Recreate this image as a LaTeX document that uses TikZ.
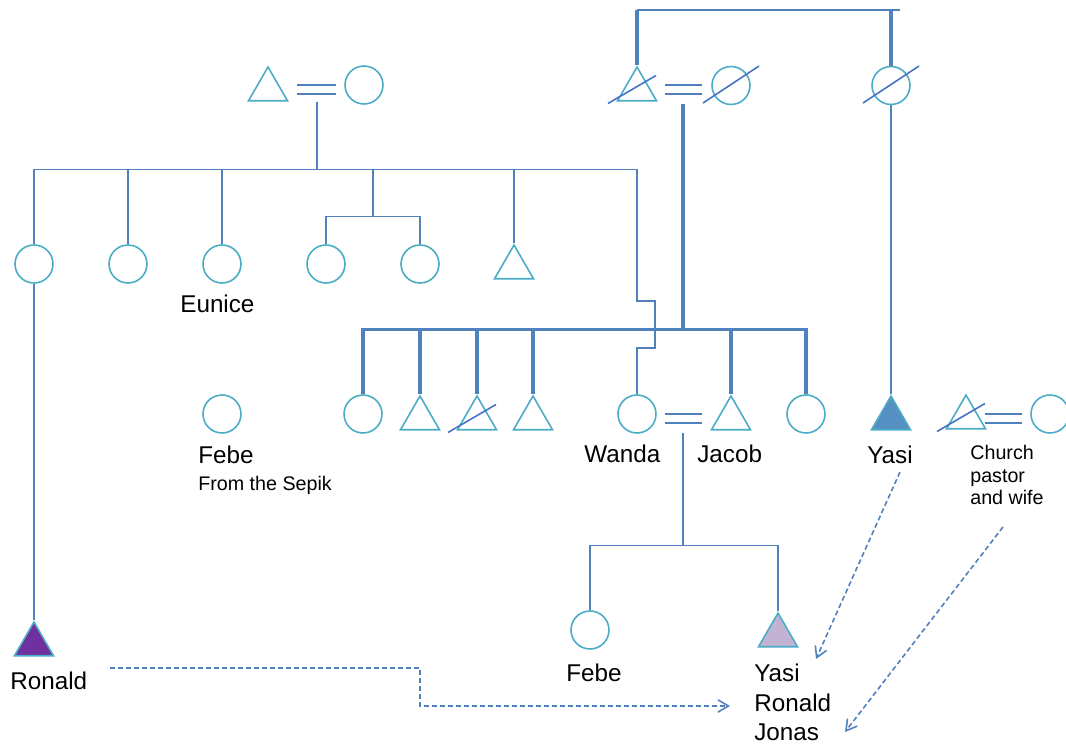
\documentclass[tikz,border=0pt]{standalone}
\usepackage{fontspec}
\setmainfont{Liberation Sans}
\usetikzlibrary{shapes.geometric,arrows.meta,positioning}

\definecolor{kinblue}{HTML}{4F81BD}
\definecolor{symteal}{HTML}{4BACC6}
\definecolor{crossblue}{HTML}{4472C4}
\definecolor{ronfill}{HTML}{7030A0}
\definecolor{lilac}{HTML}{C3B3D3}
\definecolor{yasifill}{HTML}{5690C3}

\tikzset{
  female/.style={circle,draw=symteal,line width=0.9pt,fill=white,minimum size=0.76cm,inner sep=0pt},
  male/.style={regular polygon,regular polygon sides=3,draw=symteal,line width=0.9pt,fill=white,minimum size=0.9cm,inner sep=0pt},
  kin/.style={draw=kinblue,line width=0.9pt},
  kinbold/.style={draw=kinblue,line width=2.2pt},
  marry/.style={draw=kinblue,line width=1.1pt},
  gone/.style={draw=crossblue,line width=0.9pt},
  link/.style={draw=kinblue,line width=0.9pt,dash pattern=on 0.1cm off 0.06cm,-{Straight Barb[length=6pt,width=7pt]}},
  bigname/.style={font=\fontsize{13.8}{17.6}\selectfont,inner sep=0pt,anchor=base west},
  smallname/.style={font=\fontsize{11.2}{13}\selectfont,inner sep=0pt,anchor=base west,align=left}
}

\begin{document}
\begin{tikzpicture}[x=0.02cm,y=-0.02cm]
\useasboundingbox (0,0) rectangle (1066,746);

% grandparents
\node[male]   (g1m) at (268,89.5) {};
\node[female] (g1f) at (364,85) {};
\node[male]   (g2m) at (637,89.5) {};
\node[female] (g2f) at (731,85.5) {};
\node[female] (g3f) at (891,85.5) {};

% left family
\node[female] (l1) at (34,264) {};
\node[female] (l2) at (128,264) {};
\node[female] (l3) at (222,264) {};
\node[female] (l4) at (326,264) {};
\node[female] (l5) at (420,264) {};
\node[male]   (l6) at (514,267.5) {};

% right family
\node[female] (r1) at (363,414) {};
\node[male]   (r2) at (420,418.5) {};
\node[male]   (r3) at (477,418.5) {};
\node[male]   (r4) at (533,418.5) {};
\node[female] (wanda) at (637,414) {};
\node[male]   (jacob) at (731,418.5) {};
\node[female] (r6) at (806,414) {};
\node[female] (febe) at (222,414) {};
\node[male,fill=yasifill] (yasi) at (891,418.5) {};
\node[male]   (pastor) at (966,417.5) {};
\node[female] (wife) at (1050,414) {};

% grandchildren
\node[female] (febe2) at (590,630) {};
\node[male,fill=lilac] (boy) at (778,635.5) {};
\node[male,fill=ronfill] (ronald) at (34,644.5) {};

% names (multi-line ones sit on their last line)
\node[bigname]   (euniceL) at (180,313) {Eunice};
\node[bigname]   (febeL) at (198,464) {Febe};
\node[smallname] (sepikL) at (198,491) {From the Sepik};
\node[bigname]   (wandaL) at (584,463) {Wanda};
\node[bigname]   (jacobL) at (697,463) {Jacob};
\node[bigname]   (yasiL) at (867,464) {Yasi};
\node[smallname] (pastorL) at (970,505) {Church\\pastor\\and wife};
\node[bigname]   (ronaldL) at (10,690) {Ronald};
\node[bigname]   (febe2L) at (566,682) {Febe};
\node[bigname,align=left,font=\fontsize{13.8}{16.8}\selectfont] (boyL) at (754,741) {Yasi\\Ronald\\Jonas};

% left family lines
\draw[marry] (g1m.center) ++(29,-4.5) -- ++(39,0) ++(-39,9) -- ++(39,0);
\coordinate (m1) at (317,102);
\coordinate (bar1) at (317,169.5);
\coordinate (sub) at (373,216.5);
\draw[kin] (m1) -- (bar1);
\draw[kin] (l1.north) -- (l1.north |- bar1) -- (wanda |- bar1);
\foreach \c in {l2,l3}
  \draw[kin] (\c.north |- bar1) -- (\c.north);
\draw[kin] (sub |- bar1) -- (sub);
\draw[kin] (l4.north) -- (l4.north |- sub) -- (l5.north |- sub) -- (l5.north);
\draw[kin] (l6.corner 1 |- bar1) -- (l6.corner 1);
\draw[kin] (wanda |- bar1) -- (637,301) -- (655,301) -- (655,348) -- (637,348) -- (wanda.north);
\draw[kin] (l1.south) -- (ronald.corner 1);

% right family lines
\coordinate (top) at (637,10);
\coordinate (topend) at (900,10);
\draw[kinbold] (g2m.corner 1) -- (top);
\draw[kinbold] (top -| g3f) -- (g3f.north);
\draw[kin,line width=1.5pt] (top) -- (topend);
\draw[marry] (g2m.center) ++(28,-4.5) -- ++(37,0) ++(-37,9) -- ++(37,0);
\coordinate (m2) at (683,104);
\coordinate (bar2) at (683,329.5);
\draw[kinbold] (m2) -- (bar2);
\draw[kinbold] (r1.north) -- (r1.north |- bar2) -- (r6.north |- bar2) -- (r6.north);
\foreach \c in {r2,r3,r4,jacob}
  \draw[kinbold] (\c.corner 1 |- bar2) -- (\c.corner 1);
\draw[kin] (g3f.south) -- (yasi.corner 1);

% Wanda and Jacob
\draw[marry] (wanda.center) ++(28,0) -- ++(37,0) ++(-37,9) -- ++(37,0);
\coordinate (m3) at (683,433);
\coordinate (bar3) at (683,545.5);
\draw[kin] (m3) -- (bar3);
\draw[kin] (febe2.north) -- (febe2.north |- bar3) -- (boy.corner 1 |- bar3) -- (boy.corner 1);

% pastor couple
\draw[marry] (pastor.center) ++(19,-3.5) -- ++(37,0) ++(-37,9) -- ++(37,0);

% deceased
\foreach \t in {g2m,r3,pastor}
  \draw[gone] (\t.center) ++(-29,14) -- ++(48,-28);
\foreach \c in {g2f,g3f}
  \draw[gone] (\c.center) ++(-28,17.5) -- ++(56,-37);

% names passed on
\coordinate (ronOut) at (110,668);
\coordinate (ronBend) at (420,706);
\coordinate (boyIn1) at (730,706);
\coordinate (yasiOut) at (900,472);
\coordinate (boyIn2) at (816,659);
\coordinate (pastorOut) at (1003,527);
\coordinate (boyIn3) at (845,732);
\draw[link] (ronOut) -| (ronBend) -- (boyIn1);
\draw[link] (yasiOut) -- (boyIn2);
\draw[link] (pastorOut) -- (boyIn3);
\end{tikzpicture}
\end{document}
